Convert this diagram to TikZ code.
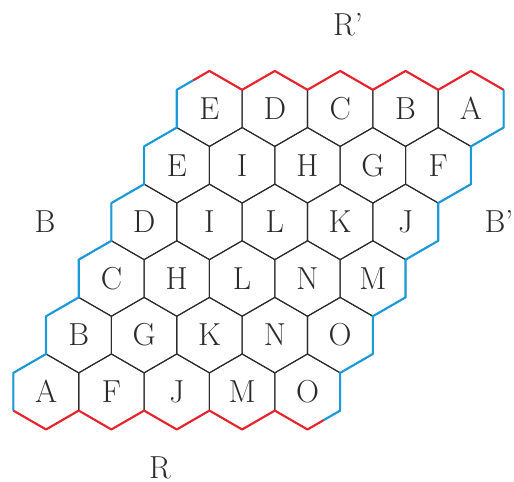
\documentclass[tikz,border=0pt]{standalone}
\usepackage{tikz}
\usetikzlibrary{shapes.geometric,calc}
\definecolor{Ink}{HTML}{2B2B2B}
\definecolor{EdgeRed}{HTML}{E8232B}
\definecolor{EdgeBlue}{HTML}{1A9AD8}

\begin{document}
\begin{tikzpicture}[
  cell/.style={regular polygon,regular polygon sides=6,shape border rotate=30,draw=Ink,line width=0.8pt,minimum size=2cm,inner sep=0pt,text=Ink,font=\fontsize{24}{29}\selectfont},
  side/.style={inner sep=0pt,text=Ink,font=\fontsize{24}{29}\selectfont},
  redge/.style={draw=EdgeRed,line width=1.6pt,line join=round},
  bedge/.style={draw=EdgeBlue,line width=1.6pt,line join=round}
]
\useasboundingbox (-1.22,-2.37) rectangle (12.40,10.38);
% board cells, row 5 is the top row
\foreach \rw/\word in {5/{E,D,C,B,A},4/{E,I,H,G,F},3/{D,I,L,K,J},2/{C,H,L,N,M},1/{B,G,K,N,O},0/{A,F,J,M,O}} {
  \foreach \l [count=\cl from 0] in \word {
    \node[cell] (h\rw\cl) at ({sqrt(3)*(\cl+\rw/2)},{1.5*\rw}) {\l};
  }
}
% red edges
\draw[redge] ([shift={(120:0.866)}]h50.center)
  \foreach \cl in {0,...,4} { -- ([shift={(90:1)}]h5\cl.center) -- ([shift={(30:1)}]h5\cl.center) };
\draw[redge] ([shift={(210:1)}]h00.center)
  \foreach \cl in {0,...,3} { -- ([shift={(270:1)}]h0\cl.center) -- ([shift={(330:1)}]h0\cl.center) }
  -- ([shift={(270:1)}]h04.center) -- ([shift={(300:0.866)}]h04.center);
% blue edges
\draw[bedge] ([shift={(30:1)}]h54.center)
  \foreach \rw in {5,4,3,2,1} { -- ([shift={(330:1)}]h\rw4.center) -- ([shift={(270:1)}]h\rw4.center) }
  -- ([shift={(330:1)}]h04.center) -- ([shift={(300:0.866)}]h04.center);
\draw[bedge] ([shift={(210:1)}]h00.center)
  \foreach \rw in {0,...,4} { -- ([shift={(150:1)}]h\rw0.center) -- ([shift={(90:1)}]h\rw0.center) }
  -- ([shift={(150:1)}]h50.center) -- ([shift={(120:0.866)}]h50.center);
% side labels
\node[side] (rtop) at (8.0,9.72) {R'};
\node[side] (rbot) at (3.02,-2.01) {R};
\node[side] (bleft) at (-0.03,4.52) {B};
\node[side] (bright) at (12.0,4.52) {B'};
\end{tikzpicture}
\end{document}
